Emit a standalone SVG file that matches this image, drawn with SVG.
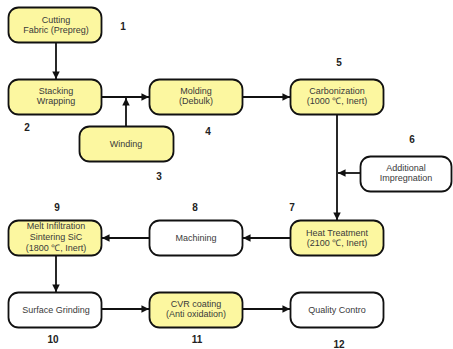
<svg xmlns="http://www.w3.org/2000/svg" width="453" height="349" viewBox="0 0 453 349">
<style>
.box{stroke:#111;stroke-width:1.8}
.y{fill:#FCF7A0}
.w{fill:#fff}
.t{font-family:"Liberation Sans",Arial,sans-serif;font-size:9px;fill:#3a3a3a;text-anchor:middle}
.n{font-family:"Liberation Sans",Arial,sans-serif;font-size:10px;font-weight:bold;fill:#222;text-anchor:middle}
.c{stroke:#111;stroke-width:1.8;fill:none}
</style>
<defs>
<marker id="a" viewBox="0 0 10 10" refX="10" refY="5" markerWidth="4.2" markerHeight="4.2" orient="auto" markerUnits="strokeWidth">
<path d="M0,0L10,5L0,10z" fill="#111"/>
</marker>
</defs>
<rect width="453" height="349" fill="#fff"/>
<g id="connectors">
<line class="c" x1="56" y1="43" x2="56" y2="79" marker-end="url(#a)"/>
<line class="c" x1="102" y1="97" x2="149" y2="97" marker-end="url(#a)"/>
<line class="c" x1="126" y1="126" x2="126" y2="98" marker-end="url(#a)"/>
<line class="c" x1="243" y1="97" x2="290" y2="97" marker-end="url(#a)"/>
<line class="c" x1="337" y1="114" x2="337" y2="220" marker-end="url(#a)"/>
<line class="c" x1="360" y1="173" x2="338" y2="173" marker-end="url(#a)"/>
<line class="c" x1="290" y1="238" x2="243" y2="238" marker-end="url(#a)"/>
<line class="c" x1="149" y1="238" x2="102" y2="238" marker-end="url(#a)"/>
<line class="c" x1="56" y1="255" x2="56" y2="292" marker-end="url(#a)"/>
<line class="c" x1="102" y1="309" x2="149" y2="309" marker-end="url(#a)"/>
<line class="c" x1="243" y1="309" x2="290" y2="309" marker-end="url(#a)"/>
</g>
<g id="n1"><rect class="box y" x="8.5" y="7.5" width="93" height="35" rx="10"/><text class="t" x="56" y="23">Cutting</text><text class="t" x="56" y="33">Fabric (Prepreg)</text><text class="n" x="123" y="30" font-weight="normal">1</text></g>
<g id="n2"><rect class="box y" x="8.5" y="79.5" width="93" height="35" rx="10"/><text class="t" x="56" y="94">Stacking</text><text class="t" x="56" y="104">Wrapping</text><text class="n" x="27" y="131">2</text></g>
<g id="n3"><rect class="box y" x="79.5" y="126.5" width="94" height="35" rx="10"/><text class="t" x="126" y="147">Winding</text><text class="n" x="159" y="180">3</text></g>
<g id="n4"><rect class="box y" x="149.5" y="79.5" width="93" height="35" rx="10"/><text class="t" x="196" y="94">Molding</text><text class="t" x="196" y="104">(Debulk)</text><text class="n" x="208" y="135">4</text></g>
<g id="n5"><rect class="box y" x="290.5" y="79.5" width="93" height="35" rx="10"/><text class="t" x="337" y="94">Carbonization</text><text class="t" x="337" y="104">(1000 ℃, Inert)</text><text class="n" x="339" y="66">5</text></g>
<g id="n6"><rect class="box w" x="360.5" y="156.5" width="91" height="35" rx="10"/><text class="t" x="406" y="171">Additional</text><text class="t" x="406" y="181">Impregnation</text><text class="n" x="412" y="143">6</text></g>
<g id="n7"><rect class="box y" x="290.5" y="220.5" width="93" height="35" rx="10"/><text class="t" x="337" y="236">Heat Treatment</text><text class="t" x="337" y="246">(2100 ℃, Inert)</text><text class="n" x="292" y="211">7</text></g>
<g id="n8"><rect class="box w" x="149.5" y="220.5" width="93" height="35" rx="10"/><text class="t" x="196" y="241">Machining</text><text class="n" x="195" y="211">8</text></g>
<g id="n9"><rect class="box y" x="8.5" y="220.5" width="93" height="35" rx="10"/><text class="t" x="56" y="229">Melt Infiltration</text><text class="t" x="56" y="240">Sintering SiC</text><text class="t" x="56" y="251">(1800 ℃, Inert)</text><text class="n" x="57" y="211">9</text></g>
<g id="n10"><rect class="box w" x="8.5" y="292.5" width="93" height="35" rx="10"/><text class="t" x="56" y="313">Surface Grinding</text><text class="n" x="53" y="343">10</text></g>
<g id="n11"><rect class="box y" x="149.5" y="292.5" width="93" height="35" rx="10"/><text class="t" x="196" y="307">CVR coating</text><text class="t" x="196" y="317">(Anti oxidation)</text><text class="n" x="197" y="343">11</text></g>
<g id="n12"><rect class="box w" x="290.5" y="292.5" width="93" height="35" rx="10"/><text class="t" x="337" y="313">Quality Contro</text><text class="n" x="339" y="348">12</text></g>
</svg>
